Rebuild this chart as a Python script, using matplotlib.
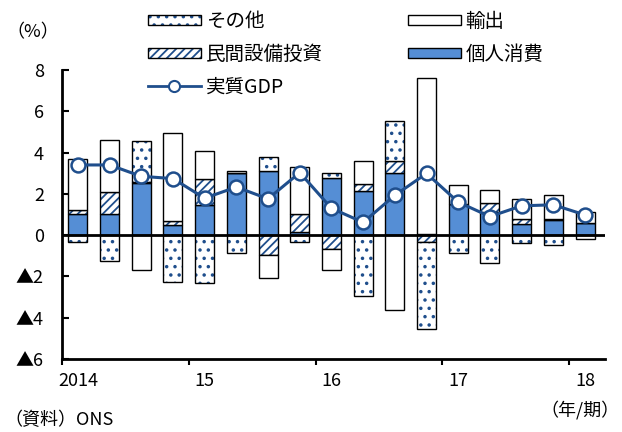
import numpy as np
import matplotlib
matplotlib.use("Agg")
import matplotlib.pyplot as plt
from matplotlib.patches import Patch
from matplotlib.lines import Line2D
from matplotlib.legend_handler import HandlerTuple

plt.rcParams['font.family'] = ['Noto Sans CJK JP', 'DejaVu Sans']
plt.rcParams['hatch.linewidth'] = 1.3

# 2014Q1 - 2018Q1, 前期比年率寄与度
quarters = ['2014Q1', '2014Q2', '2014Q3', '2014Q4',
            '2015Q1', '2015Q2', '2015Q3', '2015Q4',
            '2016Q1', '2016Q2', '2016Q3', '2016Q4',
            '2017Q1', '2017Q2', '2017Q3', '2017Q4',
            '2018Q1']
year_labels = ['2014', '15', '16', '17', '18']

consumption = [1.01, 1.01, 2.54, 0.49, 1.47, 3.03, 3.10, 0.13, 2.77, 2.14,
               3.03, 0.05, 1.52, 1.11, 0.54, 0.73, 0.59]
investment = [0.20, 1.10, 0.05, 0.20, 1.27, 0.00, -0.98, 0.90, -0.65, 0.33,
              0.57, -0.35, 0.00, 0.44, 0.24, 0.03, 0.00]
other = [-0.33, -1.27, 1.99, -2.27, -2.32, -0.85, 0.70, -0.33, 0.22, -2.94,
         1.91, -4.22, -0.88, -1.37, -0.36, -0.49, -0.20]
exports = [2.48, 2.51, -1.71, 4.25, 1.35, 0.10, -1.09, 2.28, -1.05, 1.10,
           -3.62, 7.55, 0.89, 0.65, 0.98, 1.19, 0.52]
real_gdp = [3.40, 3.40, 2.85, 2.74, 1.79, 2.33, 1.76, 3.03, 1.30, 0.62,
            1.93, 2.99, 1.60, 0.90, 1.42, 1.47, 0.98]

BLUE = '#558ed5'
DARK = '#1f4e8c'
FS_TICK = 13
FS_LEG = 14

fig = plt.figure(figsize=(6.22, 4.32), dpi=100)
ax = fig.add_axes([62 / 622, 1 - 359 / 432, (605 - 62) / 622, (359 - 70) / 432])

x = np.arange(len(quarters))
width = 0.6
pos_base = np.zeros(len(x))
neg_base = np.zeros(len(x))

# 個人消費 -> 民間設備投資 -> その他 -> 輸出 の順に積み上げ
series = [
    (consumption, BLUE, None),
    (investment, 'white', '////'),
    (other, 'white', '..'),
    (exports, 'white', None),
]
for vals, face, hatch in series:
    vals = np.array(vals)
    base = np.where(vals >= 0, pos_base, neg_base)
    if hatch:
        ax.bar(x, vals, width, bottom=base, color='white', edgecolor=DARK,
               hatch=hatch, linewidth=0, zorder=2)
        ax.bar(x, vals, width, bottom=base, fill=False, edgecolor='black',
               linewidth=1.0, zorder=2)
    else:
        ax.bar(x, vals, width, bottom=base, color=face, edgecolor='black',
               linewidth=1.0, zorder=2)
    pos_base += np.where(vals >= 0, vals, 0)
    neg_base += np.where(vals < 0, vals, 0)

ax.axhline(0, color='black', linewidth=2.0, zorder=3)
ax.plot(x, real_gdp, color=DARK, linewidth=2.2, marker='o', markersize=10,
        markerfacecolor='white', markeredgecolor=DARK, markeredgewidth=1.8,
        zorder=4)

ax.set_xlim(-0.45, 16.63)
ax.set_ylim(-6, 8)
yt = np.arange(-6, 9, 2)
ax.set_yticks(yt)
ax.set_yticklabels([str(v) if v >= 0 else '▲' + str(-v) for v in yt])
ax.set_xticks(np.arange(-0.5, 16, 4))
ax.set_xticklabels([])
ax.set_xticks(np.arange(0, 17, 4), minor=True)
ax.set_xticklabels(year_labels, minor=True)
ax.tick_params(axis='x', which='major', direction='out', length=4, width=1.5)
ax.tick_params(axis='x', which='minor', length=0, pad=9, labelsize=FS_TICK)
ax.tick_params(axis='y', direction='in', length=5, width=1.5, pad=13,
               labelsize=FS_TICK)
for s in ['top', 'right']:
    ax.spines[s].set_visible(False)
for s in ['left', 'bottom']:
    ax.spines[s].set_linewidth(2.0)

# 凡例
outline = Patch(facecolor='none', edgecolor='black', linewidth=1.0)
h_other = (Patch(facecolor='white', edgecolor=DARK, hatch='..', linewidth=0), outline)
h_inv = (Patch(facecolor='white', edgecolor=DARK, hatch='////', linewidth=0), outline)
h_gdp = Line2D([], [], color=DARK, linewidth=2.0, marker='o', markersize=8,
               markerfacecolor='white', markeredgecolor=DARK, markeredgewidth=1.5)
h_exp = Patch(facecolor='white', edgecolor='black', linewidth=1.0)
h_cons = Patch(facecolor=BLUE, edgecolor='black', linewidth=1.0)

common = dict(loc='upper left', frameon=False, handlelength=2.7,
              handleheight=0.42, handletextpad=0.26, labelspacing=0.6,
              borderpad=0, borderaxespad=0, fontsize=FS_LEG,
              handler_map={tuple: HandlerTuple(ndivide=1, pad=0)})
fig.legend([h_other, h_inv, h_gdp], ['その他', '民間設備投資', '実質GDP'],
           bbox_to_anchor=(148 / 622, 1 - 11 / 432), **common)
fig.legend([h_exp, h_cons], ['輸出', '個人消費'],
           bbox_to_anchor=(408 / 622, 1 - 11 / 432), **common)

fig.text(6 / 622, 1 - 32 / 432, '（%）', fontsize=FS_TICK, ha='left', va='center')
fig.text(620 / 622, 1 - 410 / 432, '（年/期）', fontsize=FS_TICK, ha='right', va='center')
fig.text(4 / 622, 1 - 420 / 432, '（資料）ONS', fontsize=FS_TICK, ha='left', va='center')

fig.savefig('out.png', dpi=100)
